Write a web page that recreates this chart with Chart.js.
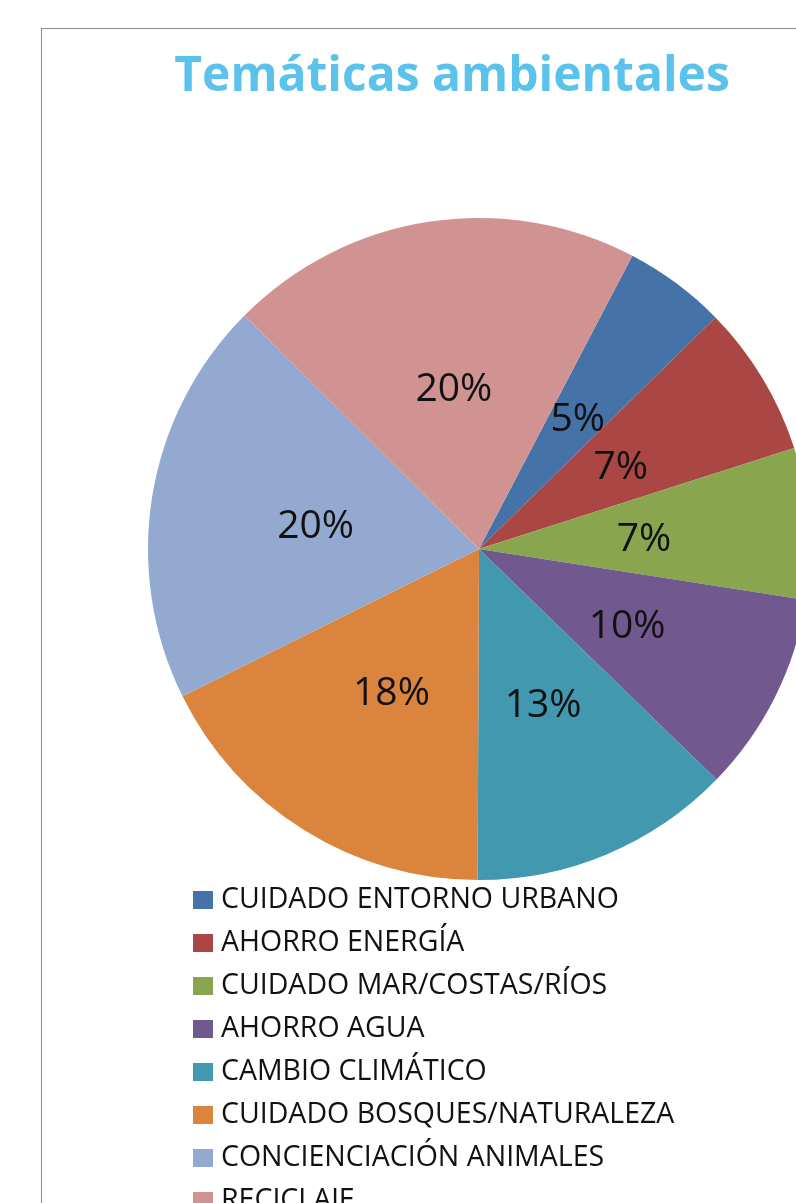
<!DOCTYPE html>
<html lang="es">
<head>
<meta charset="utf-8">
<title>Temáticas ambientales</title>
<script src="https://cdn.jsdelivr.net/npm/chart.js@4.4.1/dist/chart.umd.min.js"></script>
<style>
    html, body {
        margin: 0;
        padding: 0;
        width: 796px;
        height: 1203px;
        overflow: hidden;
        background: #ffffff;
    }
    .frame {
        position: absolute;
        left: 41px;
        top: 28px;
        width: 900px;
        height: 1300px;
        border: 1.5px solid #8c8c8c;
        box-sizing: border-box;
    }
    .chart-wrap {
        position: absolute;
        left: 0;
        top: 0;
        width: 900px;
        height: 1203px;
    }
    .chart-title {
        position: absolute;
        left: 0;
        width: 904px;
        top: 40px;
        text-align: center;
        font-family: "Open Sans", sans-serif;
        font-weight: bold;
        font-size: 48px;
        line-height: 66px;
        color: #5bc2eb;
    }
    .legend {
        position: absolute;
        left: 193px;
        top: 876px;
        margin: 0;
        padding: 0;
        list-style: none;
        font-family: "Open Sans", sans-serif;
        font-size: 28.5px;
        color: #111111;
    }
    .legend li {
        height: 43px;
        line-height: 43px;
        white-space: nowrap;
    }
    .legend .box {
        display: inline-block;
        width: 20px;
        height: 18px;
        margin-right: 8px;
        vertical-align: -1px;
    }
</style>
</head>
<body>
<div class="frame"></div>
<div class="chart-wrap">
    <canvas id="pieChart" width="900" height="1203"></canvas>
</div>
<div class="chart-title">Temáticas ambientales</div>
<ul class="legend" id="legend"></ul>

<script>
// Chart data
const categories = [
    'CUIDADO ENTORNO URBANO',
    'AHORRO ENERGÍA',
    'CUIDADO MAR/COSTAS/RÍOS',
    'AHORRO AGUA',
    'CAMBIO CLIMÁTICO',
    'CUIDADO BOSQUES/NATURALEZA',
    'CONCIENCIACIÓN ANIMALES',
    'RECICLAJE'
];
const shares = [5.0, 7.4, 7.4, 9.8, 12.8, 17.6, 19.8, 20.2];
const sliceColors = ['#4572a7', '#aa4643', '#89a54e', '#71588f', '#4298af', '#db843d', '#93a9cf', '#d19392'];

// Percent labels drawn at half the radius, like the original
const percentLabels = {
    id: 'percentLabels',
    afterDatasetsDraw(chart) {
        const ctx = chart.ctx;
        const meta = chart.getDatasetMeta(0);
        const total = shares.reduce((sum, v) => sum + v, 0);
        ctx.save();
        ctx.font = '39px "Open Sans", sans-serif';
        ctx.fillStyle = '#111111';
        ctx.textAlign = 'center';
        ctx.textBaseline = 'middle';
        meta.data.forEach((arc, i) => {
            const mid = (arc.startAngle + arc.endAngle) / 2;
            const r = arc.outerRadius * 0.5;
            const x = arc.x + Math.cos(mid) * r;
            const y = arc.y + Math.sin(mid) * r + 4;
            ctx.fillText(Math.round(shares[i] / total * 100) + '%', x, y);
        });
        ctx.restore();
    }
};

const pieChart = new Chart(document.getElementById('pieChart').getContext('2d'), {
    type: 'pie',
    data: {
        labels: categories,
        datasets: [{
            data: shares,
            backgroundColor: sliceColors,
            borderWidth: 0
        }]
    },
    options: {
        responsive: false,
        animation: false,
        rotation: 27.6,
        layout: {
            padding: { top: 218, bottom: 323, left: 148, right: 90 }
        },
        plugins: {
            legend: { display: false },
            title: { display: false },
            tooltip: { enabled: false }
        }
    },
    plugins: [percentLabels]
});

// Vertical legend built from the same arrays
const legendEl = document.getElementById('legend');
let html = '';
categories.forEach((name, i) => {
    html += `<li><span class="box" style="background:${sliceColors[i]}"></span>${name}</li>`;
});
legendEl.innerHTML = html;
</script>
</body>
</html>
